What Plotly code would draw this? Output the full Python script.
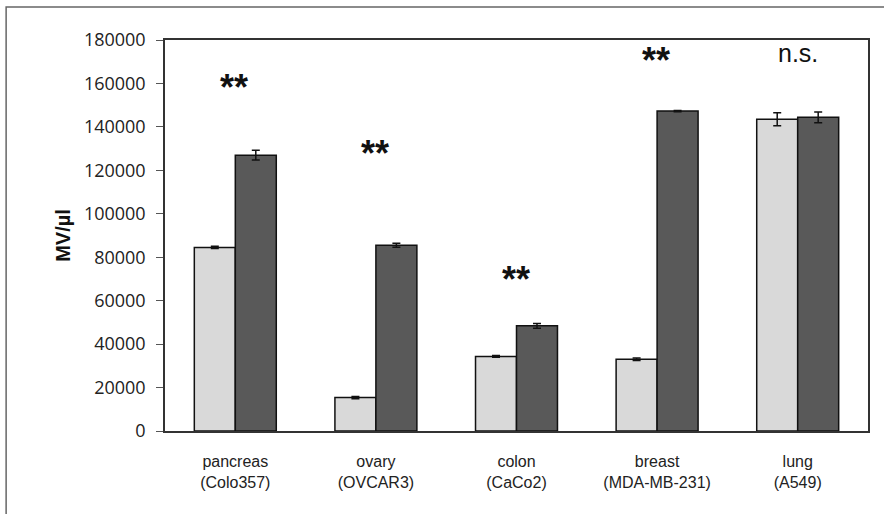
import plotly.graph_objects as go

categories = ["pancreas<br>(Colo357)", "ovary<br>(OVCAR3)", "colon<br>(CaCo2)",
              "breast<br>(MDA-MB-231)", "lung<br>(A549)"]
light_vals = [84500, 15400, 34300, 33000, 143500]
light_err = [500, 500, 400, 600, 3000]
dark_vals = [127000, 85500, 48400, 147300, 144400]
dark_err = [2200, 900, 1100, 300, 2500]
sig_labels = ["**", "**", "**", "**", "n.s."]
sig_y = [159500, 129000, 71000, 172000, 174000]
y_ticks = [0, 20000, 40000, 60000, 80000, 100000, 120000, 140000, 160000, 180000]

fig = go.Figure()
fig.add_trace(go.Bar(
    x=categories, y=light_vals, name="control",
    marker=dict(color="#d9d9d9", line=dict(color="#111111", width=1.5)),
    error_y=dict(type="data", array=light_err, color="#111111", thickness=1.5, width=4),
))
fig.add_trace(go.Bar(
    x=categories, y=dark_vals, name="treated",
    marker=dict(color="#595959", line=dict(color="#111111", width=1.5)),
    error_y=dict(type="data", array=dark_err, color="#111111", thickness=1.5, width=4),
))

for c, lab, yy in zip(categories, sig_labels, sig_y):
    is_star = lab == "**"
    fig.add_annotation(x=c, y=yy, text=f"<b>{lab}</b>" if is_star else lab,
                       showarrow=False, xref="x", yref="y",
                       font=dict(family="Liberation Sans, Arial", size=36 if is_star else 25,
                                 color="#111111"),
                       yshift=-3 if is_star else 0, xshift=-1 if is_star else 0)

# outer frame
fig.add_shape(type="rect", xref="paper", yref="paper",
              x0=-0.226, x1=1.04, y0=-0.23, y1=1.0844,
              line=dict(color="#666666", width=1.5), layer="below")

fig.update_layout(
    width=884, height=514,
    margin=dict(l=165, r=16, t=40, b=83),
    paper_bgcolor="white", plot_bgcolor="white",
    barmode="group", bargap=0.417, bargroupgap=0,
    showlegend=False,
    xaxis=dict(
        showline=True, linecolor="#333333", linewidth=1.5, mirror=True,
        ticks="", showgrid=False,
        tickfont=dict(family="Liberation Sans, Arial", size=16, color="#222222"),
        ticklabelstandoff=15,
    ),
    yaxis=dict(
        range=[0, 180000], tickvals=y_ticks, ticktext=[str(v) for v in y_ticks],
        showline=True, linecolor="#333333", linewidth=1.5, mirror=True,
        ticks="outside", ticklen=7, tickcolor="#555555", tickwidth=1,
        showgrid=False, zeroline=False,
        tickfont=dict(family="Open Sans, Noto Sans", size=18, color="#222222"),
        ticklabelstandoff=7,
        title=dict(text="<b>MV/µl</b>", standoff=8,
                   font=dict(family="Liberation Sans, Arial", size=20, color="#111111")),
    ),
)

fig.write_html("out.html", config={"displayModeBar": False},
               post_script="document.body.style.margin='0';")
